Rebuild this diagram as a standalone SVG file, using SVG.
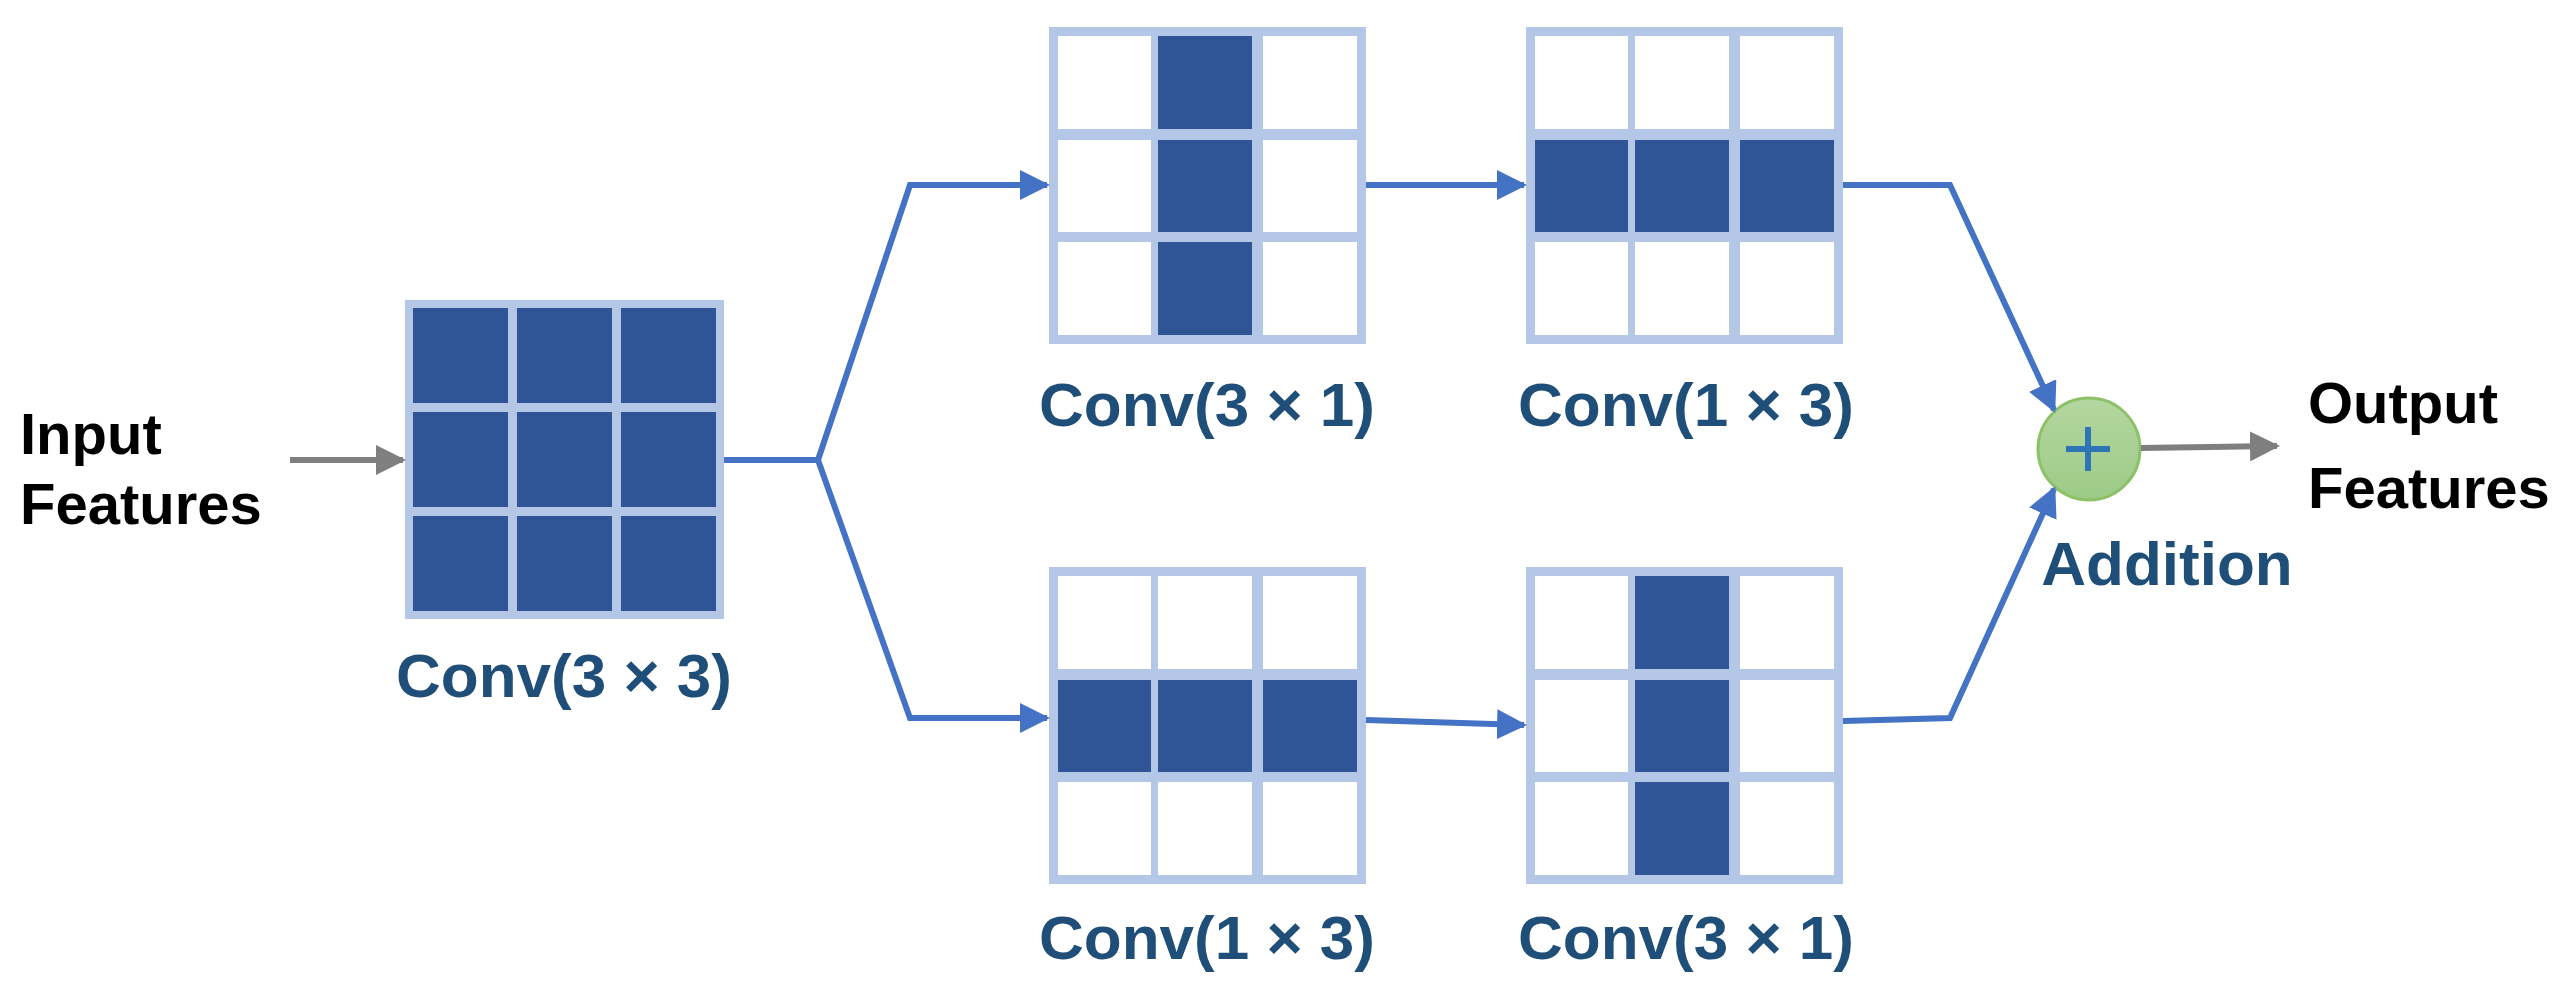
<svg xmlns="http://www.w3.org/2000/svg" width="2564" height="996" viewBox="0 0 2564 996">
<defs>
<marker id="ab" viewBox="0 0 10 10" refX="9" refY="5" markerWidth="5" markerHeight="5" orient="auto" markerUnits="strokeWidth"><path d="M0,0L10,5L0,10z" fill="#4472C4"/></marker>
<marker id="ag" viewBox="0 0 10 10" refX="9" refY="5" markerWidth="5" markerHeight="5" orient="auto" markerUnits="strokeWidth"><path d="M0,0L10,5L0,10z" fill="#7F7F7F"/></marker>
<linearGradient id="gg" x1="0" y1="0" x2="0" y2="1"><stop offset="0" stop-color="#B5D6A0"/><stop offset="1" stop-color="#9CCB86"/></linearGradient>
</defs>
<style>
.bg{fill:#B4C7E7}
.w{fill:#fff}
.d{fill:#2F5597}
.lab{font-family:"Liberation Sans",Arial,sans-serif;font-weight:bold;font-size:62px;fill:#1F4E79;text-anchor:middle}
.blk{font-family:"Liberation Sans",Arial,sans-serif;font-weight:bold;font-size:58px;fill:#000}
.cb{fill:none;stroke:#4472C4;stroke-width:6}
.cg{fill:none;stroke:#7F7F7F;stroke-width:6}
</style>
<rect width="2564" height="996" fill="#fff"/>
<g id="conv3x3">
<rect class="bg" x="405" y="300" width="319" height="319"/>
<rect class="d" x="413" y="308" width="95" height="95"/><rect class="d" x="517" y="308" width="95" height="95"/><rect class="d" x="621" y="308" width="95" height="95"/>
<rect class="d" x="413" y="412" width="95" height="95"/><rect class="d" x="517" y="412" width="95" height="95"/><rect class="d" x="621" y="412" width="95" height="95"/>
<rect class="d" x="413" y="516" width="95" height="95"/><rect class="d" x="517" y="516" width="95" height="95"/><rect class="d" x="621" y="516" width="95" height="95"/>
<text class="lab" x="564" y="697">Conv(3 × 3)</text>
</g>
<g id="top3x1">
<rect class="bg" x="1049" y="27" width="317" height="317"/>
<rect class="w" x="1058" y="36" width="93" height="93"/><rect class="d" x="1158" y="36" width="94" height="93"/><rect class="w" x="1263" y="36" width="94" height="93"/>
<rect class="w" x="1058" y="140" width="93" height="92"/><rect class="d" x="1158" y="140" width="94" height="92"/><rect class="w" x="1263" y="140" width="94" height="92"/>
<rect class="w" x="1058" y="242" width="93" height="93"/><rect class="d" x="1158" y="242" width="94" height="93"/><rect class="w" x="1263" y="242" width="94" height="93"/>
<text class="lab" x="1207" y="426">Conv(3 × 1)</text>
</g>
<g id="top1x3">
<rect class="bg" x="1526" y="27" width="317" height="317"/>
<rect class="w" x="1535" y="36" width="93" height="93"/><rect class="w" x="1635" y="36" width="94" height="93"/><rect class="w" x="1740" y="36" width="94" height="93"/>
<rect class="d" x="1535" y="140" width="93" height="92"/><rect class="d" x="1635" y="140" width="94" height="92"/><rect class="d" x="1740" y="140" width="94" height="92"/>
<rect class="w" x="1535" y="242" width="93" height="93"/><rect class="w" x="1635" y="242" width="94" height="93"/><rect class="w" x="1740" y="242" width="94" height="93"/>
<text class="lab" x="1686" y="426">Conv(1 × 3)</text>
</g>
<g id="bot1x3">
<rect class="bg" x="1049" y="567" width="317" height="317"/>
<rect class="w" x="1058" y="576" width="93" height="93"/><rect class="w" x="1158" y="576" width="94" height="93"/><rect class="w" x="1263" y="576" width="94" height="93"/>
<rect class="d" x="1058" y="680" width="93" height="92"/><rect class="d" x="1158" y="680" width="94" height="92"/><rect class="d" x="1263" y="680" width="94" height="92"/>
<rect class="w" x="1058" y="782" width="93" height="93"/><rect class="w" x="1158" y="782" width="94" height="93"/><rect class="w" x="1263" y="782" width="94" height="93"/>
<text class="lab" x="1207" y="959">Conv(1 × 3)</text>
</g>
<g id="bot3x1">
<rect class="bg" x="1526" y="567" width="317" height="317"/>
<rect class="w" x="1535" y="576" width="93" height="93"/><rect class="d" x="1635" y="576" width="94" height="93"/><rect class="w" x="1740" y="576" width="94" height="93"/>
<rect class="w" x="1535" y="680" width="93" height="92"/><rect class="d" x="1635" y="680" width="94" height="92"/><rect class="w" x="1740" y="680" width="94" height="92"/>
<rect class="w" x="1535" y="782" width="93" height="93"/><rect class="d" x="1635" y="782" width="94" height="93"/><rect class="w" x="1740" y="782" width="94" height="93"/>
<text class="lab" x="1686" y="959">Conv(3 × 1)</text>
</g>
<g id="addition">
<circle cx="2089" cy="449" r="51" fill="url(#gg)" stroke="#8CC168" stroke-width="3"/>
<path d="M2066,449H2110M2088,427V471" stroke="#2E75B6" stroke-width="6" fill="none"/>
<text class="lab" x="2167" y="585">Addition</text>
</g>
<g id="input"><text class="blk" x="20" y="454">Input</text><text class="blk" x="20" y="524">Features</text></g>
<g id="output"><text class="blk" x="2308" y="423">Output</text><text class="blk" x="2308" y="508">Features</text></g>
<g id="connectors">
<path class="cg" d="M290,460H403" marker-end="url(#ag)"/>
<path class="cg" d="M2141,448L2277,446" marker-end="url(#ag)"/>
<path class="cb" d="M724,460H818L910,185H1047" marker-end="url(#ab)"/>
<path class="cb" d="M818,460L910,718H1047" marker-end="url(#ab)"/>
<path class="cb" d="M1366,185H1524" marker-end="url(#ab)"/>
<path class="cb" d="M1366,720L1524,725" marker-end="url(#ab)"/>
<path class="cb" d="M1843,185H1950L2054,410" marker-end="url(#ab)"/>
<path class="cb" d="M1843,721L1950,718L2054,489" marker-end="url(#ab)"/>
</g>
</svg>
